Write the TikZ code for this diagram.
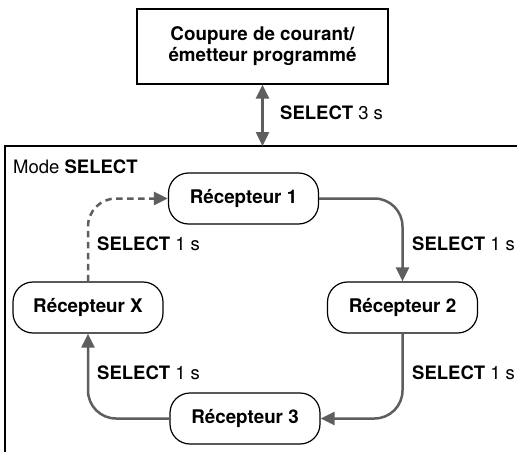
\documentclass[tikz,border=0pt]{standalone}
\usepackage{fontspec}
\setmainfont{TeX Gyre Heros}
\usetikzlibrary{arrows.meta}
\definecolor{arrgray}{HTML}{5E5E5E}
\tikzset{
  rbox/.style={draw=black, line width=1.2pt, rounded corners=20pt, minimum width=150pt, minimum height=51pt, inner sep=0pt, font=\fontsize{18.8}{21}\selectfont\bfseries},
  sqbox/.style={draw=black, line width=1.2pt, minimum width=251pt, minimum height=75pt, inner sep=0pt, align=center, font=\fontsize{18.8}{21}\selectfont\bfseries},
  lbl/.style={anchor=base west, inner sep=0pt, font=\fontsize{18.5}{21}\selectfont},
  arr/.style={draw=arrgray, line width=2.5pt, -{Triangle[length=14pt,width=13pt]}, rounded corners=28pt},
  dasharr/.style={arr, dash pattern=on 6.5pt off 4.5pt}
}
\begin{document}
\begin{tikzpicture}[x=1pt,y=-1pt]
\clip (0,0) rectangle (517,452);
\fill[white] (0,0) rectangle (517,452);
% mode frame
\draw[black, line width=1.5pt] (5,470) -- (5,146) -- (530,146);
\node[lbl] (mode) at (13,173) {Mode \textbf{SELECT}};
% top box
\node[sqbox] (top) at (262.5,46.5) {Coupure de courant/\\émetteur programmé};
\coordinate (mt) at (262.5,146);
\draw[arr, {Triangle[length=14pt,width=13pt]}-{Triangle[length=14pt,width=13pt]}] (top.south) -- (mt);
\node[lbl] (l0) at (280,120) {\textbf{SELECT} 3 s};
% receivers
\node[rbox] (r1) at (243.5,198.5) {Récepteur 1};
\node[rbox] (r2) at (402.5,307.5) {Récepteur 2};
\node[rbox] (r3) at (245,418.5) {Récepteur 3};
\node[rbox] (rx) at (88,307.5) {Récepteur X};
% connectors
\draw[arr] (r1.east) -| (r2.north);
\draw[arr] (r2.south) |- (r3.east);
\draw[arr] (r3.west) -| (rx.south);
\draw[dasharr] (rx.north) |- (r1.west);
% labels
\node[lbl] (l1) at (97,250) {\textbf{SELECT} 1 s};
\node[lbl] (l2) at (412,250) {\textbf{SELECT} 1 s};
\node[lbl] (l3) at (97,379) {\textbf{SELECT} 1 s};
\node[lbl] (l4) at (412,379) {\textbf{SELECT} 1 s};
\end{tikzpicture}
\end{document}
